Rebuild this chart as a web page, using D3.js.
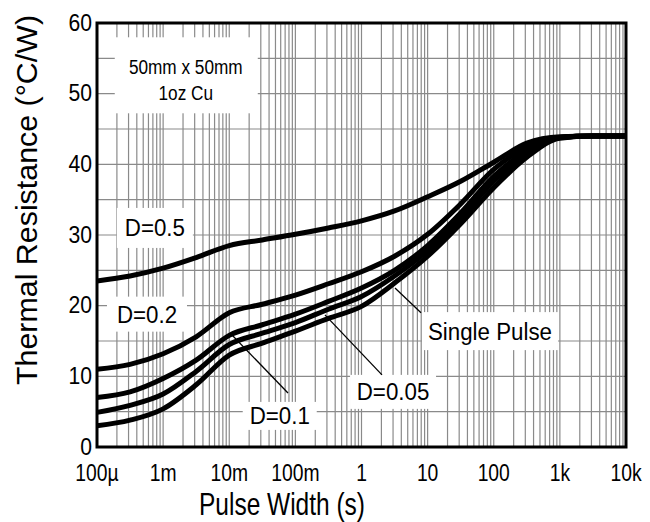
<!DOCTYPE html>
<html><head><meta charset="utf-8">
<script src="https://cdn.jsdelivr.net/npm/d3@7"></script>
<style>body{margin:0;background:#fff}svg{display:block}text{font-family:"Liberation Sans",Arial,sans-serif;fill:#000}</style>
</head><body><svg id="c" width="650" height="522"></svg>
<script>
const times = [1e-4, 3.16e-4, 1e-3, 3.16e-3, 1e-2, 3.16e-2, 0.1, 0.316, 1, 3.16, 10, 31.6, 100, 316, 1000, 3162, 10000];
const d05 = [23.5, 24.2, 25.3, 26.8, 28.5, 29.3, 30.1, 31.0, 32.0, 33.4, 35.4, 37.6, 40.3, 43.0, 43.9, 44.0, 44.0];
const d02 = [11.0, 11.7, 13.2, 15.6, 19.0, 20.2, 21.5, 23.1, 24.8, 27.0, 30.1, 34.4, 39.3, 42.4, 43.8, 44.0, 44.0];
const d01 = [7.0, 7.8, 9.7, 12.3, 15.8, 17.3, 18.8, 20.6, 22.5, 25.0, 28.5, 33.1, 38.3, 41.9, 43.8, 44.0, 44.0];
const d005 = [4.9, 5.9, 7.5, 10.7, 14.5, 16.1, 17.6, 19.5, 21.3, 24.2, 27.8, 32.4, 37.6, 41.5, 43.8, 44.0, 44.0];
const single = [3.0, 3.8, 5.4, 8.8, 13.0, 14.7, 16.4, 18.2, 19.9, 23.2, 27.0, 31.6, 36.7, 41.0, 43.7, 44.0, 44.0];
const series = [d05, d02, d01, d005, single];
const xTickValues = [1e-4, 1e-3, 1e-2, 1e-1, 1, 10, 100, 1000, 10000];
const xTickLabels = ["100µ", "1m", "10m", "100m", "1", "10", "100", "1k", "10k"];
const yTickValues = [0, 10, 20, 30, 40, 50, 60];
const xTitle = "Pulse Width (s)";
const yTitle = "Thermal Resistance (°C/W)";
// annotation labels: [text, time, value] (box centre in data units)
const labels = [["D=0.5", 7.5e-4, 31.0], ["D=0.2", 5.7e-4, 18.8], ["D=0.1", 0.058, 4.4], ["D=0.05", 3.0, 7.8], ["Single Pulse", 87.7, 16.4]];
const labelBox = [[76, 40], [80, 35], [74, 28], [86, 34], [136, 38]];
const leaders = [[0.011, 15.85, 0.0773, 7.64], [0.28, 18.7, 2.04, 10.2], [3.21, 22.5, 7.94, 19.0]];
const note = ["50mm x 50mm", "1oz Cu"];
const noteAt = [2.2e-3, 52.6];

const svg = d3.select("#c");
const L = 97, R = 626, T = 23, B = 447;
const x = d3.scaleLog().domain([1e-4, 1e4]).range([L, R]);
const y = d3.scaleLinear().domain([0, 60]).range([B, T]);
// condensed text via textLength (no transforms)
function txt(g, px, py, s, size, anchor, sx, len) {
  const t = g.append("text").attr("x", px).attr("y", py)
    .attr("text-anchor", anchor || "middle").attr("font-size", size).text(s);
  if (len || (sx && sx !== 1)) {
    const w = len || t.node().getComputedTextLength() * sx;
    t.attr("textLength", w).attr("lengthAdjust", "spacingAndGlyphs");
  }
  return t;
}

// grid
const grid = svg.append("g").attr("stroke", "#8a8a8a").attr("stroke-width", 1.2);
const minor = [];
for (let e = -4; e < 4; e++) for (let k = 1; k < 10; k++) minor.push(k * Math.pow(10, e));
minor.forEach(v => grid.append("line").attr("x1", x(v)).attr("x2", x(v)).attr("y1", T).attr("y2", B));
d3.range(5, 60, 5).forEach(v => grid.append("line").attr("x1", L).attr("x2", R).attr("y1", y(v)).attr("y2", y(v)));

// note box
svg.append("rect").attr("x", x(noteAt[0]) - 71).attr("y", y(noteAt[1]) - 38).attr("width", 143).attr("height", 76).attr("fill", "#fff");
txt(svg, x(noteAt[0]), y(noteAt[1]) - 1, note[0], 20, "middle", 0.86);
txt(svg, x(noteAt[0]), y(noteAt[1]) + 25, note[1], 20, "middle", 0.86);

// label boxes
labels.forEach((l, i) => {
  const cx = x(l[1]), cy = y(l[2]);
  svg.append("rect").attr("x", cx - labelBox[i][0] / 2).attr("y", cy - labelBox[i][1] / 2)
    .attr("width", labelBox[i][0]).attr("height", labelBox[i][1]).attr("fill", "#fff");
});

// curves
const line = d3.line().x((d, i) => x(times[i])).y(d => y(d)).curve(d3.curveMonotoneX);
series.forEach(s => svg.append("path").attr("d", line(s)).attr("fill", "none").attr("stroke", "#000").attr("stroke-width", 5).attr("stroke-linejoin", "round"));

// leaders
leaders.forEach(l => svg.append("line").attr("x1", x(l[0])).attr("y1", y(l[1])).attr("x2", x(l[2])).attr("y2", y(l[3])).attr("stroke", "#000").attr("stroke-width", 1.3));

// label text
labels.forEach(l => txt(svg, x(l[1]), y(l[2]) + 8.5, l[0], 23, "middle", 0.97));

// frame
svg.append("rect").attr("x", L).attr("y", T).attr("width", R - L).attr("height", B - T).attr("fill", "none").attr("stroke", "#000").attr("stroke-width", 3);

// axes labels
xTickValues.forEach((v, i) => txt(svg, x(v), 481, xTickLabels[i], 23, "middle", 0.84));
yTickValues.forEach(v => txt(svg, 92, y(v) + 7.5, String(v), 24, "end", 0.88));
txt(svg, 282, 515, xTitle, 32, "middle", 0, 166);
const yt = svg.append("g").attr("transform", "translate(37,200) rotate(-90)");
txt(yt, 0, 0, yTitle, 30, "middle", 0, 370);
</script></body></html>
